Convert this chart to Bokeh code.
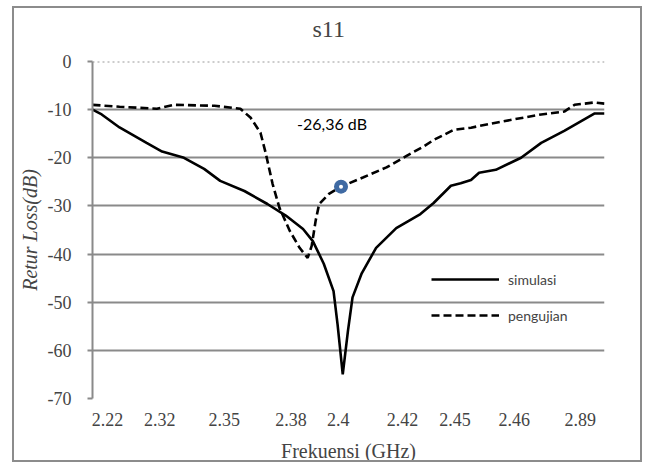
from bokeh.plotting import figure
from bokeh.models import Range1d, FixedTicker, Span, Legend, LegendItem, Label, Title
from bokeh.embed import file_html
from bokeh.resources import INLINE

# ---- data (sample index along the category axis, return loss in dB) ----
sim_x = [0, 1.6, 4.7, 9.4, 12.1, 15.9, 19.4, 22.2, 26.4, 30.4, 33.6, 36.6, 38.3,
         40.2, 41.9, 42.6, 43.5, 44.4, 45.2, 46.8, 49.3, 52.8, 57.0, 59.3, 62.3,
         64.0, 65.8, 67.2, 70.1, 74.5, 78.0, 82.0, 87.3, 89]
sim_y = [-10, -11, -13.7, -16.9, -18.7, -20, -22.3, -24.8, -26.9, -29.6, -32, -34.8,
         -37.3, -42, -47.7, -54.6, -65, -56, -49, -44, -38.7, -34.6, -31.7, -29.4,
         -25.8, -25.3, -24.6, -23.1, -22.5, -20, -16.9, -14.4, -10.8, -10.8]

uji_x = [0, 4.7, 11.2, 14.2, 21.2, 25.7, 27.5, 29.2, 30.1, 31.3, 32.5, 34.3, 36.0,
         37.4, 38.1, 38.8, 39.4, 41.1, 43.2, 47.0, 51.1, 54.6, 57.5, 59.3, 62.8,
         65.8, 69.3, 73.8, 78.0, 82.0, 83.8, 87.3, 89]
uji_y = [-9, -9.4, -9.8, -9.0, -9.2, -9.8, -11.7, -14.8, -19, -25.4, -30.4, -35.2,
         -38.7, -40.8, -38.3, -33, -29.6, -27.5, -26.0, -24.1, -22, -19.6, -17.7,
         -16.3, -14.2, -13.75, -12.9, -11.9, -11, -10.4, -9, -8.5, -8.75]

marker_x = [43.2]
marker_y = [-26.0]
marker_text = "-26,36 dB"

x_tick_pos = [2.6, 11.7, 22.9, 34.5, 42.7, 53.9, 63.0, 73.3, 84.8]
x_tick_labels = ["2.22", "2.32", "2.35", "2.38", "2.4", "2.42", "2.45", "2.46", "2.89"]
y_ticks = [0, -10, -20, -30, -40, -50, -60, -70]
y_grid = [-10, -20, -30, -40, -50, -60]

series_names = ["simulasi", "pengujian"]
chart_title = "s11"

GRAY = "#8a8a8a"
SERIF = "Liberation Serif"

p = figure(width=630, height=456, output_backend="svg", toolbar_location=None,
           x_range=Range1d(0, 89), y_range=Range1d(-70, 0),
           min_border_left=78, min_border_right=40, min_border_top=53,
           min_border_bottom=64)
p.margin = (6, 0, 0, 12)
p.styles = {"border": "2px solid #8c8c8c"}
p.outline_line_color = None
p.background_fill_color = "white"
p.border_fill_color = "white"

# title (outermost above panel) + blank spacer between it and the plot area
p.title.text = chart_title
p.title.text_font = SERIF
p.title.text_font_size = "24px"
p.title.text_font_style = "normal"
p.title.align = "left"
p.title.offset = 220
p.title.standoff = 4
spacer = Title(text=" ", text_font_size="10px", standoff=5)
p.add_layout(spacer, "above")

# x axis
p.xaxis.ticker = FixedTicker(ticks=x_tick_pos)
p.xaxis.major_label_overrides = {t: l for t, l in zip(x_tick_pos, x_tick_labels)}
p.xaxis.axis_line_color = None
p.xaxis.major_tick_line_color = None
p.xaxis.minor_tick_line_color = None
p.xaxis.major_label_text_font = SERIF
p.xaxis.major_label_text_font_size = "18px"
p.xaxis.major_label_standoff = 8
p.xaxis.axis_label = "Frekuensi (GHz)"
p.xaxis.axis_label_text_font = SERIF
p.xaxis.axis_label_text_font_size = "20px"
p.xaxis.axis_label_text_font_style = "normal"
p.xaxis.axis_label_standoff = 11
p.xgrid.visible = False

# y axis
p.yaxis.ticker = FixedTicker(ticks=y_ticks)
p.yaxis.major_label_overrides = {t: str(t) for t in y_ticks}
p.yaxis.axis_line_color = GRAY
p.yaxis.axis_line_width = 2
p.yaxis.major_tick_line_color = GRAY
p.yaxis.major_tick_line_width = 2
p.yaxis.major_tick_in = 0
p.yaxis.major_tick_out = 5
p.yaxis.minor_tick_line_color = None
p.yaxis.major_label_text_font = SERIF
p.yaxis.major_label_text_font_size = "18px"
p.yaxis.major_label_standoff = 16
p.yaxis.axis_label = "Retur Loss(dB)"
p.yaxis.axis_label_text_font = SERIF
p.yaxis.axis_label_text_font_size = "20px"
p.yaxis.axis_label_text_font_style = "italic"
p.yaxis.axis_label_standoff = 4
p.ygrid.ticker = FixedTicker(ticks=y_grid)
p.ygrid.grid_line_color = GRAY
p.ygrid.grid_line_width = 2

top_line = Span(location=0, dimension="width", line_color="#9a9a9a",
                line_width=2, line_dash="2 3")
p.add_layout(top_line)

r_sim = p.line(sim_x, sim_y, line_color="black", line_width=2.6)
r_uji = p.line(uji_x, uji_y, line_color="black", line_width=2.6, line_dash="8 4")

p.scatter(marker_x, marker_y, size=14, fill_color="#3f6aa3", line_color=None)
p.scatter(marker_x, marker_y, size=4, fill_color="white", line_color=None)

lbl = Label(x=marker_x[0], y=marker_y[0], text=marker_text, x_offset=-9, y_offset=63,
            text_align="center", text_baseline="middle", text_font="Lato",
            text_font_size="16px", text_color="black")
p.add_layout(lbl)

legend = Legend(items=[LegendItem(label=series_names[0], renderers=[r_sim]),
                       LegendItem(label=series_names[1], renderers=[r_uji])],
                location=(339, 73), orientation="vertical")
legend.background_fill_alpha = 0
legend.border_line_color = None
legend.padding = 0
legend.margin = 0
legend.spacing = 16
legend.glyph_width = 68
legend.glyph_height = 20
legend.label_standoff = 9
legend.label_text_font = "Lato"
legend.label_text_font_size = "14px"
legend.label_height = 20
p.add_layout(legend)

open("out.html", "w").write(file_html(p, INLINE))
